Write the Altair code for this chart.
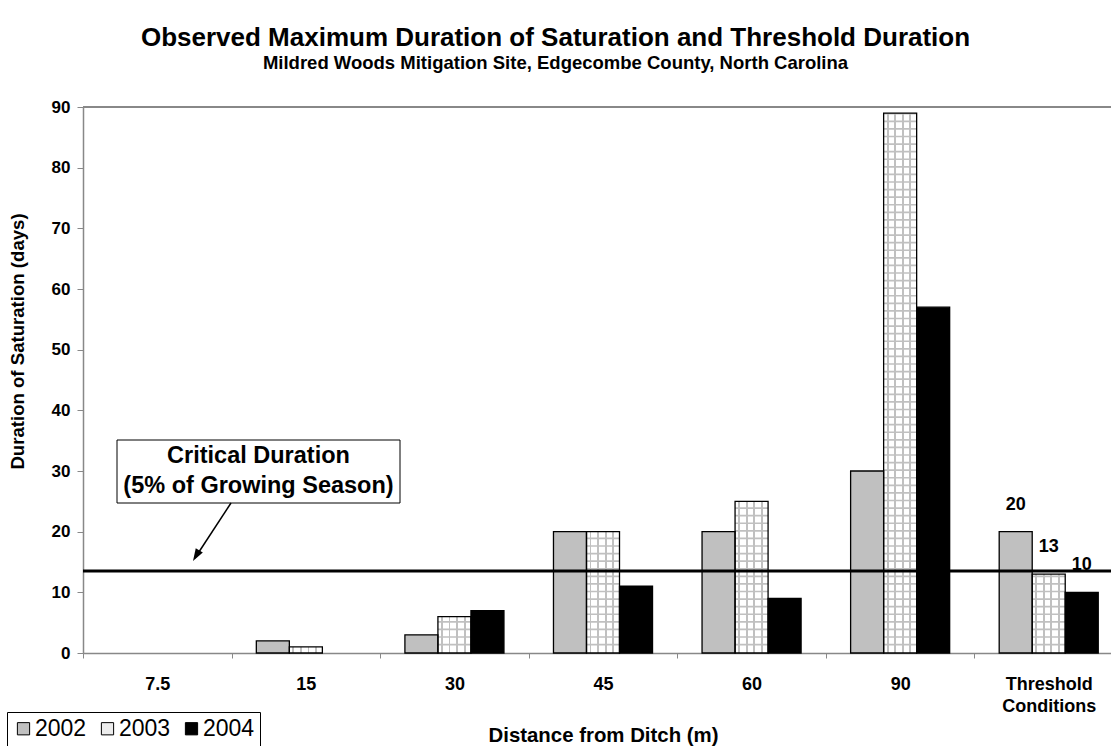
import altair as alt
import pandas as pd

# Maximum observed duration of saturation (days) by distance from the ditch
distances = ["7.5", "15", "30", "45", "60", "90", "Threshold Conditions"]
years = ["2002", "2003", "2004"]
days_2002 = [0, 2, 3, 20, 20, 30, 20]
days_2003 = [0, 1, 6, 20, 25, 89, 13]
days_2004 = [0, 0, 7, 11, 9, 57, 10]
critical_duration = [13.5]
year_colors = ["#c0c0c0", "#ececec", "#000000"]

FONT = "Liberation Sans, Arial, sans-serif"
Y_TITLE = "Duration of Saturation (days)"

bars_df = pd.DataFrame(
    [
        {"distance": d, "year": y, "days": v}
        for y, series in zip(years, [days_2002, days_2003, days_2004])
        for d, v in zip(distances, series)
    ]
)


def stripes(centers, half, line, back):
    """Hard-stop horizontal gradient giving thin vertical lines."""
    stops = [{"offset": 0, "color": back}]
    for c in centers:
        stops += [
            {"offset": c - half, "color": back},
            {"offset": c - half, "color": line},
            {"offset": c + half, "color": line},
            {"offset": c + half, "color": back},
        ]
    stops.append({"offset": 1, "color": back})
    return {"gradient": "linear", "x1": 0, "y1": 0, "x2": 1, "y2": 0, "stops": stops}


grid_line = "#c0c0c0"
grid_fill = stripes([0.12, 0.35, 0.58, 0.81], 0.028, grid_line, "#ffffff")

x_enc = alt.X(
    "distance:N",
    sort=distances,
    scale=alt.Scale(domain=distances, range=[0, 1040], paddingInner=0, paddingOuter=0),
    axis=alt.Axis(
        title="Distance from Ditch (m)",
        labelAngle=0,
        tickBand="extent",
        tickSize=5,
        labelPadding=17,
        labelFontSize=18,
        labelFontWeight="bold",
        labelLineHeight=22,
        titleFontSize=20.4,
        titleFontWeight="bold",
        titlePadding=10,
        domainWidth=1.5,
        labelExpr="datum.value == 'Threshold Conditions' ? ['Threshold', 'Conditions'] : datum.value",
    ),
)
xo_enc = alt.XOffset(
    "year:N", sort=years, scale=alt.Scale(domain=years, paddingInner=0, paddingOuter=0.75)
)
y_enc = alt.Y(
    "days:Q",
    title=Y_TITLE,
    scale=alt.Scale(domain=[0, 90], nice=False, zero=True),
    axis=alt.Axis(
        values=list(range(0, 91, 10)),
        grid=False,
        tickSize=6,
        labelPadding=7,
        labelFontSize=17,
        labelFontWeight="bold",
        titleFontSize=18.6,
        titleFontWeight="bold",
        titlePadding=24,
        titleY=234,
        domainWidth=1.5,
    ),
)

fill_layer = alt.Chart(bars_df).mark_bar(strokeWidth=0).encode(
    x=x_enc,
    xOffset=xo_enc,
    y=y_enc,
    fill=alt.condition(
        "datum.year == '2003'",
        alt.value(grid_fill),
        alt.Fill(
            "year:N",
            sort=years,
            scale=alt.Scale(domain=years, range=year_colors),
            legend=alt.Legend(
                title=None,
                orient="none",
                direction="horizontal",
                legendX=-76,
                legendY=605,
                symbolType="square",
                symbolSize=150,
                symbolStrokeColor="black",
                symbolStrokeWidth=1,
                symbolOpacity=1,
                labelFont=FONT,
                labelFontSize=23,
                labelFontWeight="normal",
                labelColor="black",
                labelOffset=0,
                columnPadding=9,
                padding=5,
                strokeColor="black",
                fillColor="white",
            ),
        ),
    ),
)

# horizontal lines of the 2003 grid texture
grid_layer = (
    alt.Chart(bars_df)
    .transform_filter("datum.year == '2003'")
    .transform_calculate(gy="sequence(1.25, datum.days, 1.25)")
    .transform_flatten(["gy"])
    .transform_calculate(gy2="datum.gy + 0.27")
    .mark_bar(color=grid_line)
    .encode(x=x_enc, xOffset=xo_enc, y=alt.Y("gy:Q", title=Y_TITLE), y2="gy2:Q")
)

outline_layer = (
    alt.Chart(bars_df)
    .transform_filter("datum.days > 0")
    .mark_bar(fillOpacity=0, stroke="black", strokeWidth=1.3)
    .encode(x=x_enc, xOffset=xo_enc, y=alt.Y("days:Q", title=Y_TITLE))
)

value_labels = (
    alt.Chart(bars_df)
    .transform_filter("datum.distance == 'Threshold Conditions'")
    .mark_text(dy=-27, font=FONT, fontSize=18, fontWeight="bold", color="black")
    .encode(x=x_enc, xOffset=xo_enc, y=alt.Y("days:Q", title=Y_TITLE), text="days:Q")
)

critical_line = (
    alt.Chart(pd.DataFrame({"days": critical_duration}))
    .mark_rule(color="black", strokeWidth=3)
    .encode(y=alt.Y("days:Q", title=Y_TITLE))
)

top_border = (
    alt.Chart(pd.DataFrame({"days": [90]}))
    .mark_rule(color="#888888", strokeWidth=2)
    .encode(y=alt.Y("days:Q", title=Y_TITLE))
)

note_df = pd.DataFrame({"note": ["critical"]})
note_box = alt.Chart(note_df).mark_rect(fill="white", stroke="black", strokeWidth=1).encode(
    x=alt.value(34), x2=alt.value(317), y=alt.value(333), y2=alt.value(396)
)
note_text = alt.Chart(note_df).mark_text(
    text=["Critical Duration", "(5% of Growing Season)"],
    font=FONT,
    fontSize=23.5,
    fontWeight="bold",
    lineHeight=30,
    align="center",
    baseline="middle",
    color="black",
).encode(x=alt.value(175.5), y=alt.value(349))
arrow_line = alt.Chart(note_df).mark_rule(color="black", strokeWidth=1.5).encode(
    x=alt.value(148), y=alt.value(396), x2=alt.value(112), y2=alt.value(451)
)
arrow_head = alt.Chart(note_df).mark_point(
    shape="M0,0L-0.4,1.2L0.4,1.2Z",
    size=420,
    filled=True,
    color="black",
    opacity=1,
    angle=210.7,
).encode(x=alt.value(110), y=alt.value(454))

chart = (
    alt.layer(
        top_border,
        fill_layer,
        grid_layer,
        outline_layer,
        critical_line,
        value_labels,
        note_box,
        note_text,
        arrow_line,
        arrow_head,
    )
    .properties(
        width=1028,
        height=546,
        autosize=alt.AutoSizeParams(type="none"),
        padding={"left": 83, "top": 107, "right": 0, "bottom": 93},
        title=alt.Title(
            text="Observed Maximum Duration of Saturation and Threshold Duration",
            subtitle="Mildred Woods Mitigation Site, Edgecombe County, North Carolina",
            font=FONT,
            subtitleFont=FONT,
            fontSize=26,
            subtitleFontSize=18.5,
            fontWeight="bold",
            subtitleFontWeight="bold",
            color="black",
            subtitleColor="black",
            anchor="middle",
            dx=-41.5,
            offset=26,
            subtitlePadding=3,
        ),
    )
    .configure_view(strokeWidth=0)
    .configure_axis(
        domainColor="black",
        tickColor="black",
        labelColor="black",
        titleColor="black",
        labelFont=FONT,
        titleFont=FONT,
    )
    .configure(background="white")
)

chart.save("out.html", embed_options={"renderer": "svg", "actions": False})
